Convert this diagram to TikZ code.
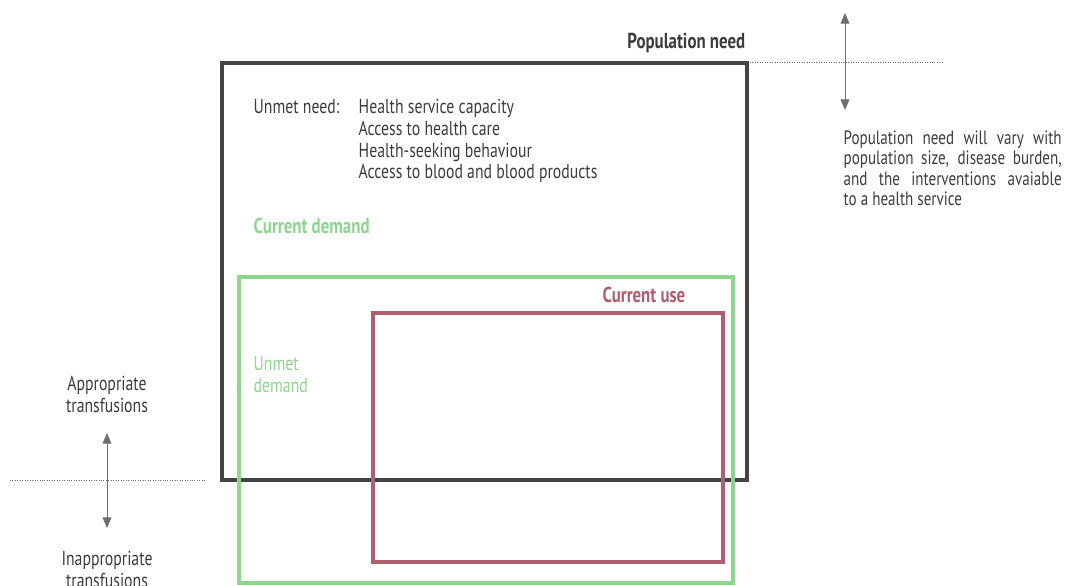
\documentclass[tikz,border=0pt]{standalone}
\usepackage{fontspec}
\setmainfont[FakeStretch=0.78]{PT Sans}
\usetikzlibrary{positioning,arrows.meta}
\definecolor{needgray}{HTML}{444444}
\definecolor{demandgreen}{HTML}{8ED58E}
\definecolor{usered}{HTML}{AE5E6C}
\definecolor{txtgray}{HTML}{3C3C3C}
\definecolor{arrgray}{HTML}{6E6E6E}

\begin{document}
\begin{tikzpicture}[x=0.02cm,y=-0.02cm,>={Triangle[length=6pt,width=5pt]},thick,font=\fontsize{11.5}{12.5}\selectfont]
\tikzstyle{t}=[text=txtgray,inner sep=0pt]
\tikzstyle{b}=[font=\fontsize{12.3}{13}\selectfont\bfseries]
\tikzstyle{frame}=[line width=2.2pt]
\tikzstyle{dots}=[densely dotted,arrgray,thin]
\tikzstyle{updown}=[<->,arrgray,thin]
\useasboundingbox (0,0) rectangle (1065,585);
% frames
\draw[frame,needgray]    (222,63)  rectangle (747,480);
\draw[frame,demandgreen] (239,277) rectangle (733,583);
\draw[frame,usered]      (373,313) rectangle (723,562);
% labels
\node[t,b,anchor=base east]	(PN)	at (746,48)		{Population need};
\node[t,anchor=base west]	(UN)	at (253,113)	{Unmet need:};
\node[t,anchor=base west]	(L1)	at (358,113)	{Health service capacity};
\node[t,anchor=base west]	(L2)	at (358,135)	{Access to health care};
\node[t,anchor=base west]	(L3)	at (358,157)	{Health-seeking behaviour};
\node[t,anchor=base west]	(L4)	at (358,178)	{Access to blood and blood products};
\node[t,b,text=demandgreen,anchor=base west]	(CD)	at (253,233)	{Current demand};
\node[t,b,text=usered,anchor=base east]		(CU)	at (686,302)	{Current use};
\node[t,text=demandgreen,anchor=base west]	(UD1)	at (253,370)	{Unmet};
\node[t,text=demandgreen,anchor=base west]	(UD2)	at (253,392)	{demand};
\node[t,text width=4.36cm,align=justify,anchor=north west,font=\fontsize{11}{11.6}\selectfont] (PV) at (843,130)
	{Population need will vary with\linebreak population size, disease burden,\linebreak and the interventions avaiable\linebreak to a health service};
\node[t,anchor=base]	(AP1)	at (107,390)	{Appropriate};
\node[t,anchor=base]	(AP2)	at (107,412)	{transfusions};
\node[t,anchor=base]	(IN1)	at (107,565)	{Inappropriate};
\node[t,anchor=base]	(IN2)	at (107,587)	{transfusions};
% arrows and dotted levels
\coordinate (NT) at (845,13);
\coordinate (NB) at (845,110);
\coordinate (ND1) at (750,62);
\coordinate (ND2) at (943,62);
\coordinate (TT) at (107,433);
\coordinate (TB) at (107,528);
\coordinate (TD1) at (10,480);
\coordinate (TD2) at (205,480);
\path	(ND1)	edge	[dots]		(ND2)
	(TD1)	edge	[dots]		(TD2)
	(NT)	edge	[updown]	(NB)
	(TT)	edge	[updown]	(TB);
\end{tikzpicture}
\end{document}
